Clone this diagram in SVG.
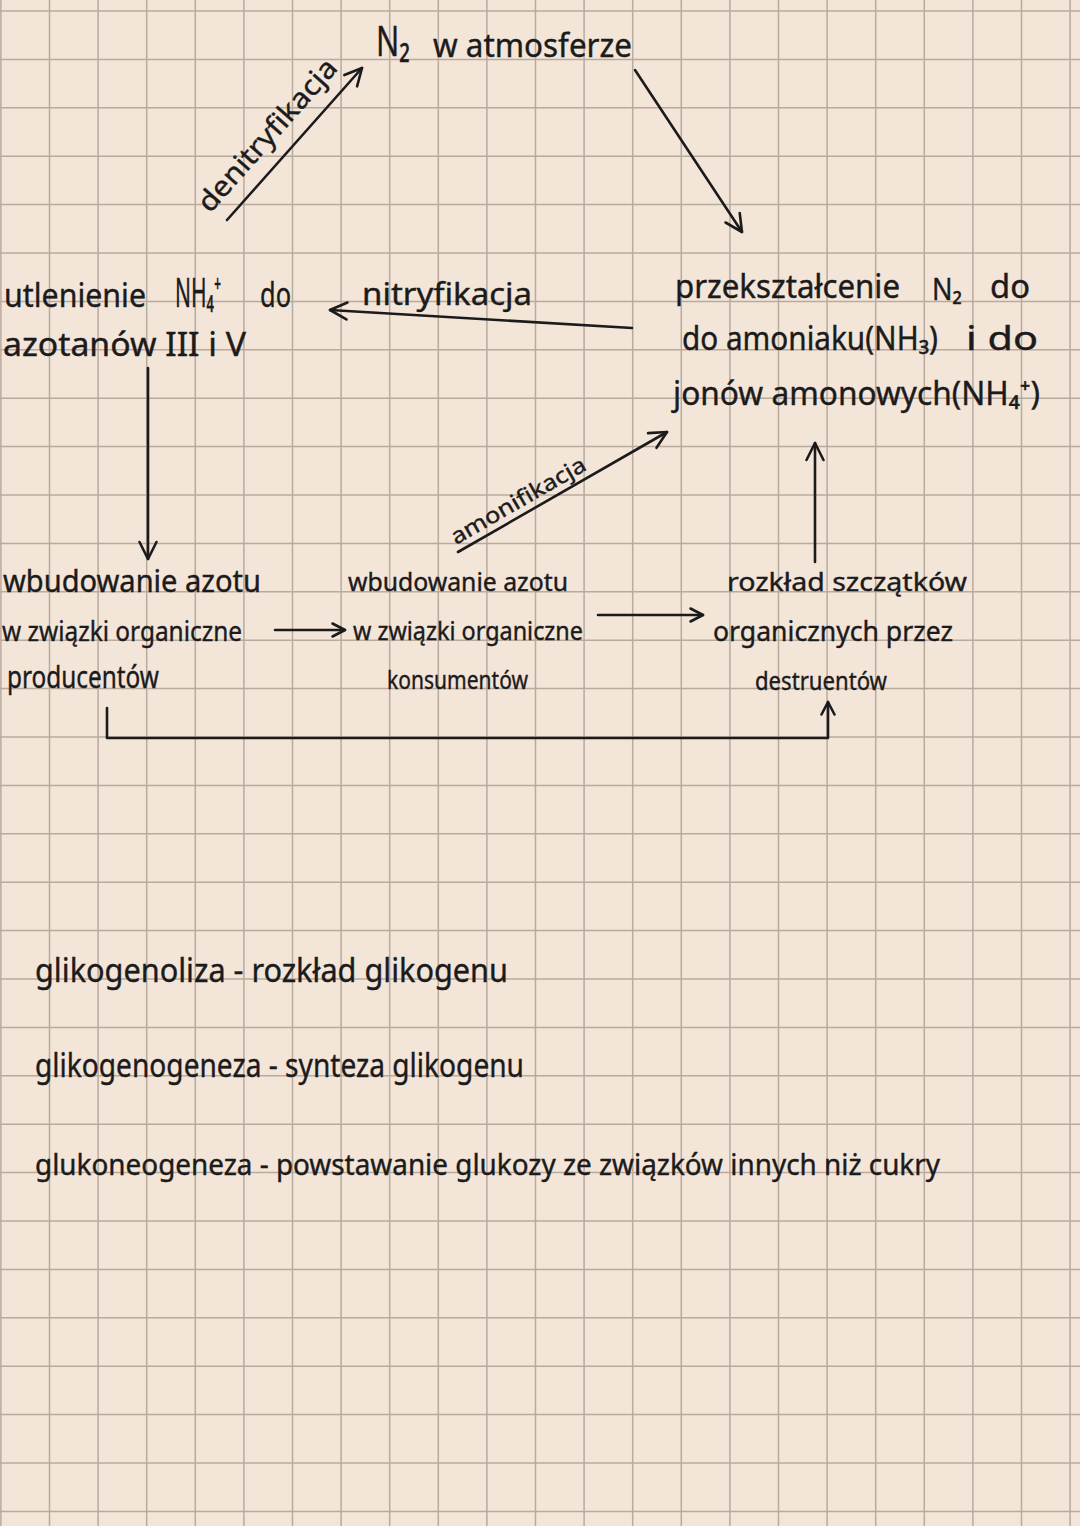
<svg xmlns="http://www.w3.org/2000/svg" width="1080" height="1526" viewBox="0 0 1080 1526">
<style>
.t{font-family:"Noto Sans","DejaVu Sans",sans-serif;fill:#1b1b1b;stroke:#1b1b1b;stroke-width:0.4}
.c{fill:none;stroke:#1b1b1b;stroke-width:2.6;stroke-linecap:round;stroke-linejoin:round}
.grid{fill:none;stroke:#b9aa9e;stroke-width:1.5}
</style>
<defs>
<marker id="ah" markerUnits="userSpaceOnUse" viewBox="0 0 24 24" refX="21" refY="12" markerWidth="24" markerHeight="24" orient="auto">
<path d="M4,3.5 L21,12 L4,20.5" fill="none" stroke="#1b1b1b" stroke-width="2.6" stroke-linecap="round" stroke-linejoin="round"/>
</marker>
<marker id="ahs" markerUnits="userSpaceOnUse" viewBox="0 0 18 18" refX="15.5" refY="9" markerWidth="18" markerHeight="18" orient="auto">
<path d="M3,2.5 L15.5,9 L3,15.5" fill="none" stroke="#1b1b1b" stroke-width="2.6" stroke-linecap="round" stroke-linejoin="round"/>
</marker>
</defs>
<rect width="1080" height="1526" fill="#f4e5d9"/>
<path class="grid" d="M0.9 0V1526M49.5 0V1526M98.1 0V1526M146.7 0V1526M195.3 0V1526M243.9 0V1526M292.5 0V1526M341.1 0V1526M389.7 0V1526M438.3 0V1526M486.9 0V1526M535.5 0V1526M584.1 0V1526M632.7 0V1526M681.3 0V1526M729.9 0V1526M778.5 0V1526M827.1 0V1526M875.7 0V1526M924.3 0V1526M972.9 0V1526M1021.5 0V1526M1070.1 0V1526M0 11H1080M0 59.4H1080M0 107.8H1080M0 156.2H1080M0 204.6H1080M0 253H1080M0 301.4H1080M0 349.8H1080M0 398.2H1080M0 446.6H1080M0 495H1080M0 543.4H1080M0 591.8H1080M0 640.2H1080M0 688.6H1080M0 737H1080M0 785.4H1080M0 833.8H1080M0 882.2H1080M0 930.6H1080M0 979H1080M0 1027.4H1080M0 1075.8H1080M0 1124.2H1080M0 1172.6H1080M0 1221H1080M0 1269.4H1080M0 1317.8H1080M0 1366.2H1080M0 1414.6H1080M0 1463H1080M0 1511.4H1080"/>

<g id="connectors">
<line class="c" x1="227" y1="220" x2="362" y2="68" marker-end="url(#ah)"/>
<line class="c" x1="635" y1="70" x2="742" y2="232" marker-end="url(#ah)"/>
<line class="c" x1="632" y1="328" x2="330" y2="310" marker-end="url(#ah)"/>
<line class="c" x1="148" y1="368" x2="148" y2="559" marker-end="url(#ah)"/>
<line class="c" x1="275" y1="630" x2="345" y2="630" marker-end="url(#ahs)"/>
<line class="c" x1="598" y1="615" x2="703" y2="615" marker-end="url(#ahs)"/>
<line class="c" x1="815" y1="562" x2="815" y2="443" marker-end="url(#ah)"/>
<line class="c" x1="458" y1="552" x2="667" y2="432" marker-end="url(#ah)"/>
<polyline class="c" points="107,708 107,738 828,738 828,702" marker-end="url(#ahs)"/>
</g>

<g id="edge-labels">
<text class="t" transform="translate(210,214) rotate(-48.4)" font-size="28" textLength="194" lengthAdjust="spacingAndGlyphs">denitryfikacja</text>
<text class="t" x="362" y="305" font-size="30" textLength="170" lengthAdjust="spacingAndGlyphs">nitryfikacja</text>
<text class="t" transform="translate(456,545) rotate(-29.9)" font-size="22" textLength="152" lengthAdjust="spacingAndGlyphs">amonifikacja</text>
</g>

<g id="n-atmosfera">
<text class="t" x="376" y="56" font-size="42" textLength="34" lengthAdjust="spacingAndGlyphs">N₂</text>
<text class="t" x="433" y="57" font-size="33" textLength="199" lengthAdjust="spacingAndGlyphs">w atmosferze</text>
</g>

<g id="n-utlenienie">
<text class="t" x="4" y="307" font-size="33" textLength="142" lengthAdjust="spacingAndGlyphs">utlenienie</text>
<text class="t" x="175" y="307" font-size="40" textLength="46" lengthAdjust="spacingAndGlyphs">NH₄⁺</text>
<text class="t" x="260" y="307" font-size="34" textLength="31" lengthAdjust="spacingAndGlyphs">do</text>
<text class="t" x="3" y="356" font-size="32" textLength="243" lengthAdjust="spacingAndGlyphs">azotanów III i V</text>
</g>

<g id="n-przeksztalcenie">
<text class="t" x="675" y="298" font-size="32" textLength="225" lengthAdjust="spacingAndGlyphs">przekształcenie</text>
<text class="t" x="932" y="300" font-size="30" textLength="30" lengthAdjust="spacingAndGlyphs">N₂</text>
<text class="t" x="990" y="298" font-size="32" textLength="40" lengthAdjust="spacingAndGlyphs">do</text>
<text class="t" x="682" y="350" font-size="32" textLength="256" lengthAdjust="spacingAndGlyphs">do amoniaku(NH₃)</text>
<text class="t" x="966" y="350" font-size="32" textLength="72" lengthAdjust="spacingAndGlyphs">i do</text>
<text class="t" x="673" y="405" font-size="32" textLength="367" lengthAdjust="spacingAndGlyphs">jonów amonowych(NH₄⁺)</text>
</g>

<g id="n-wbudowanie-producentow">
<text class="t" x="3" y="592" font-size="30" textLength="258" lengthAdjust="spacingAndGlyphs">wbudowanie azotu</text>
<text class="t" x="2" y="641" font-size="28" textLength="240" lengthAdjust="spacingAndGlyphs">w związki organiczne</text>
<text class="t" x="7" y="688" font-size="30" textLength="152" lengthAdjust="spacingAndGlyphs">producentów</text>
</g>

<g id="n-wbudowanie-konsumentow">
<text class="t" x="348" y="591" font-size="25" textLength="220" lengthAdjust="spacingAndGlyphs">wbudowanie azotu</text>
<text class="t" x="353" y="640" font-size="25" textLength="230" lengthAdjust="spacingAndGlyphs">w związki organiczne</text>
<text class="t" x="387" y="689" font-size="26" textLength="141" lengthAdjust="spacingAndGlyphs">konsumentów</text>
</g>

<g id="n-rozklad">
<text class="t" x="727" y="591" font-size="26" textLength="240" lengthAdjust="spacingAndGlyphs">rozkład szczątków</text>
<text class="t" x="713" y="641" font-size="27" textLength="240" lengthAdjust="spacingAndGlyphs">organicznych przez</text>
<text class="t" x="755" y="690" font-size="26" textLength="132" lengthAdjust="spacingAndGlyphs">destruentów</text>
</g>

<g id="notes">
<text class="t" x="35" y="982" font-size="33" textLength="473" lengthAdjust="spacingAndGlyphs">glikogenoliza - rozkład glikogenu</text>
<text class="t" x="35" y="1077" font-size="33" textLength="489" lengthAdjust="spacingAndGlyphs">glikogenogeneza - synteza glikogenu</text>
<text class="t" x="35" y="1175" font-size="29" textLength="905" lengthAdjust="spacingAndGlyphs">glukoneogeneza - powstawanie glukozy ze związków innych niż cukry</text>
</g>
</svg>
